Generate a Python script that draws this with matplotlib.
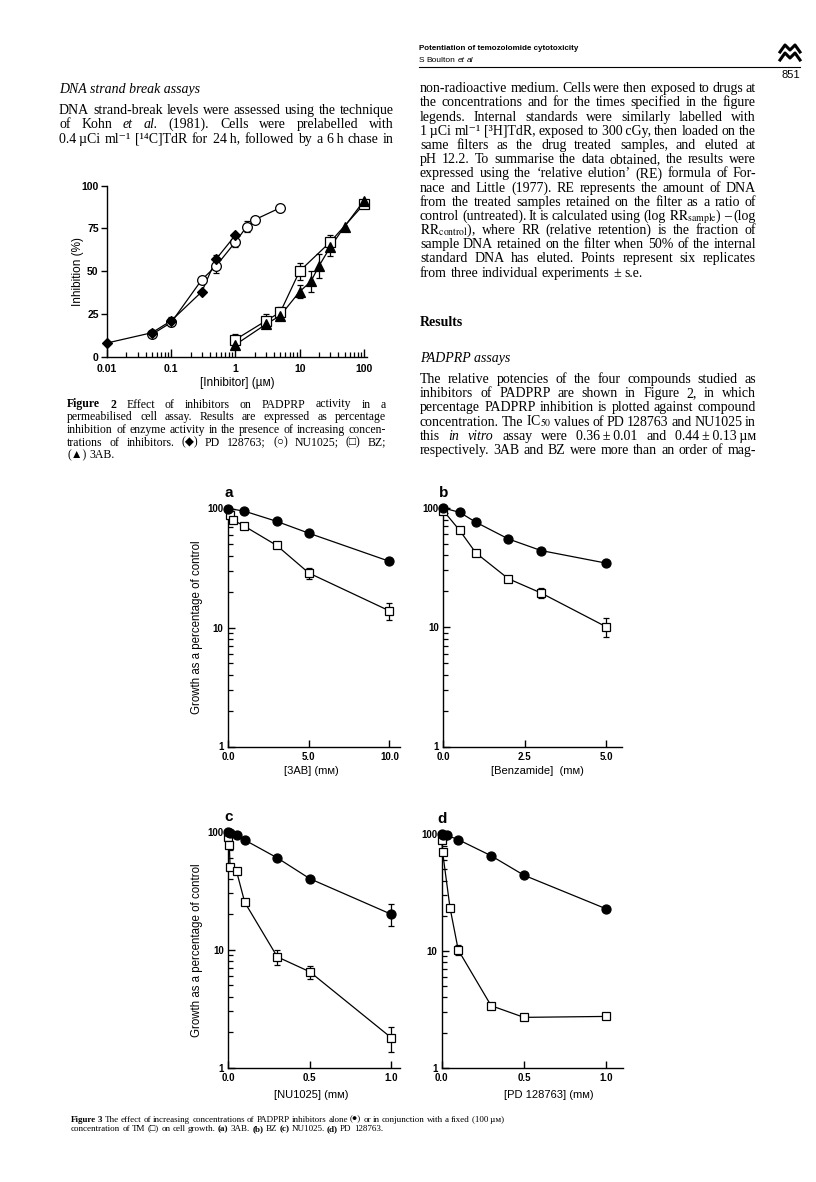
import matplotlib
matplotlib.use("Agg")
from matplotlib import pyplot as plt
from matplotlib.lines import Line2D
from matplotlib.ticker import FixedLocator, FixedFormatter, LogLocator, NullFormatter

W, H = 816, 1182
SERIF = ["Liberation Serif", "DejaVu Sans"]
SANS = ["Liberation Sans", "DejaVu Sans"]
plt.rcParams["font.family"] = SANS
plt.rcParams["mathtext.fontset"] = "stix"

# ---- Figure 2 data: inhibition (%) vs [inhibitor] (uM)
pd_x = [0.01, 0.05, 0.1, 0.3, 0.5, 1.0]
pd_y = [8, 14, 21, 38, 57, 71]
pd_err = [0, 0, 2, 0, 2.5, 0]
nu_x = [0.05, 0.1, 0.3, 0.5, 1.0, 1.5, 2.0, 5.0]
nu_y = [13, 20, 45, 53, 67, 76, 80, 87]
nu_err = [0, 2, 0, 4, 3, 3, 0, 0]
bz_x = [1, 3, 5, 10, 30, 100]
bz_y = [10, 21, 26, 50, 67, 89]
bz_err = [3.5, 4, 3, 5, 4, 0]
ab_x = [1, 3, 5, 10, 15, 20, 30, 50, 100]
ab_y = [7, 19, 24, 38, 44, 53, 64, 76, 91]
ab_err = [0, 2, 0, 4, 6, 7, 5, 0, 0]

# ---- Figure 3 data: growth (% of control), alone vs with TM
a_x = [0, 1, 3, 5, 10]
a_y = [100, 95, 78, 62, 36]
a_tm_x = [0.1, 0.3, 1, 3, 5, 10]
a_tm_y = [88, 80, 71, 49, 28.7, 13.8]
a_tm_err = [0, 0, 0, 0, 3, 2.3]

b_x = [0, 0.5, 1, 2, 3, 5]
b_y = [100, 92, 76, 55, 44, 34.5]
b_tm_x = [0, 0.5, 1, 2, 3, 5]
b_tm_y = [95, 65, 42, 25.5, 19.4, 10.1]
b_tm_err = [0, 0, 0, 0, 1.9, 1.75]

c_x = [0, 0.01, 0.05, 0.1, 0.3, 0.5, 1.0]
c_y = [100, 98, 93.5, 85, 60, 40, 20]
c_err = [0, 0, 0, 0, 0, 0, 4.2]
c_tm_x = [0, 0.005, 0.01, 0.05, 0.1, 0.3, 0.5, 1.0]
c_tm_y = [91, 77, 50, 46, 25.2, 8.7, 6.5, 1.8]
c_tm_err = [0, 0, 0, 0, 1.5, 1.25, 0.8, 0.43]

d_x = [0, 0.01, 0.03, 0.1, 0.3, 0.5, 1.0]
d_y = [100, 99, 98, 90, 65.5, 44.6, 23]
d_tm_x = [0, 0.005, 0.05, 0.1, 0.3, 0.5, 1.0]
d_tm_y = [89, 70, 23.4, 10.2, 3.4, 2.7, 2.75]
d_tm_err = [0, 0, 0, 1.0, 0, 0, 0]

fig = plt.figure(figsize=(W / 100, H / 100), dpi=100)
fig.patch.set_facecolor("white")


def fx(x):
    return x / W


def fy(y):
    return 1 - y / H


def add_ax(l, t, r, b):
    return fig.add_axes([fx(l), fy(b), (r - l) / W, (b - t) / H])


def words_of(line):
    out = []
    for w in line.split(" "):
        kw = {}
        if len(w) > 1 and w.startswith("#") and w.endswith("#"):
            w = w[1:-1]
            kw["fontweight"] = "bold"
        if len(w) > 1 and w.startswith("~") and w.endswith("~"):
            w = w[1:-1]
            kw["fontstyle"] = "italic"
        out.append((w, kw))
    return out


def para(lines, x0, x1, y0, dy, size, last_justify=False, family=SERIF):
    r = fig.canvas.get_renderer()
    for i, line in enumerate(lines):
        y = y0 + i * dy
        toks = words_of(line)
        texts = [fig.text(fx(x0), fy(y), w, fontsize=size, family=family,
                          va="baseline", ha="left", **kw) for w, kw in toks]
        widths = [t.get_window_extent(r).width for t in texts]
        justify = (i < len(lines) - 1) or last_justify
        if justify and len(texts) > 1:
            gap = (x1 - x0 - sum(widths)) / (len(texts) - 1)
        else:
            gap = 0.25 * size * 100 / 72
        x = x0
        for t, w in zip(texts, widths):
            t.set_x(fx(x))
            x += w + gap


def series(ax, x, y, err, marker, ms, face):
    ax.plot(x, y, color="black", lw=0.9, zorder=2, clip_on=False)
    ex = [a for a, e in zip(x, err) if e > 0]
    ey = [b for b, e in zip(y, err) if e > 0]
    ee = [e for e in err if e > 0]
    if ex:
        ax.errorbar(ex, ey, yerr=ee, fmt="none", ecolor="black", elinewidth=0.9,
                    capsize=2.5, capthick=0.9, zorder=2.5)
    ax.plot(x, y, ls="none", marker=marker, ms=ms, mfc=face, mec="black",
            mew=0.9, zorder=3, clip_on=False)


# ---------------- page header
fig.text(fx(419), fy(49.5), "Potentiation of temozolomide cytotoxicity",
         fontsize=5.8, fontweight="bold", family=SANS, va="baseline")
para(["S Boulton ~et~ ~al~"], 419, 480, 62, 10, 6, family=SANS)
fig.add_artist(Line2D([fx(419), fx(800)], [fy(66.7), fy(66.7)], transform=fig.transFigure,
                      color="black", lw=0.8))
for yo in (0, 8):
    fig.add_artist(Line2D([fx(v) for v in (780, 785, 790, 795, 800)],
                          [fy(v + yo) for v in (52, 45, 50, 45, 52)],
                          transform=fig.transFigure, color="black", lw=2.2,
                          solid_joinstyle="round"))
fig.text(fx(800), fy(78.5), "851", fontsize=8, family=SANS, ha="right", va="baseline")

# ---------------- left column text
fig.text(fx(59), fy(93.3), "DNA strand break assays", fontsize=10, family=SERIF,
         style="italic", va="baseline")
para(["DNA strand-break levels were assessed using the technique",
      "of Kohn ~et~ ~al.~ (1981). Cells were prelabelled with",
      "0.4\u2009µCi ml\u207b\u00b9 [\u00b9\u2074C]TdR for 24\u2009h, followed by a 6\u2009h chase in"],
     59, 394, 114, 14.3, 10, last_justify=True)

# ---------------- right column text
para(["non-radioactive medium. Cells were then exposed to drugs at",
      "the concentrations and for the times specified in the figure",
      "legends. Internal standards were similarly labelled with",
      "1\u2009µCi ml\u207b\u00b9 [\u00b3H]TdR, exposed to 300\u2009cGy, then loaded on the",
      "same filters as the drug treated samples, and eluted at",
      "pH 12.2. To summarise the data obtained, the results were",
      "expressed using the \u2018relative elution\u2019 (RE) formula of For-",
      "nace and Little (1977). RE represents the amount of DNA",
      "from the treated samples retained on the filter as a ratio of",
      "control (untreated). It is calculated using (log $\\mathrm{RR}_{\\mathrm{sample}}$) \u2013 (log",
      "$\\mathrm{RR}_{\\mathrm{control}}$), where RR (relative retention) is the fraction of",
      "sample DNA retained on the filter when 50% of the internal",
      "standard DNA has eluted. Points represent six replicates",
      "from three individual experiments ± s.e."],
     420, 756, 92.3, 14.18, 10)

fig.text(fx(420), fy(325.5), "Results", fontsize=10, family=SERIF, fontweight="bold",
         va="baseline")
fig.text(fx(420), fy(361.5), "PADPRP assays", fontsize=10, family=SERIF,
         style="italic", va="baseline")
para(["The relative potencies of the four compounds studied as",
      "inhibitors of PADPRP are shown in Figure 2, in which",
      "percentage PADPRP inhibition is plotted against compound",
      "concentration. The IC$_{50}$ values of PD 128763 and NU1025 in",
      "this ~in~ ~vitro~ assay were 0.36\u2009±\u20090.01 and 0.44\u2009±\u20090.13\u2009µᴍ",
      "respectively. 3AB and BZ were more than an order of mag-"],
     420, 756, 383, 14.2, 10, last_justify=True)

# ---------------- Figure 2
ax2 = add_ax(107, 185.5, 367, 356.7)
ax2.set_xscale("log")
ax2.set_xlim(0.01, 112)
ax2.set_ylim(0, 100)
series(ax2, nu_x, nu_y, nu_err, "o", 7, "white")
series(ax2, pd_x, pd_y, pd_err, "D", 5.5, "black")
series(ax2, bz_x, bz_y, bz_err, "s", 6.5, "white")
series(ax2, ab_x, ab_y, ab_err, "^", 6.5, "black")
for s in ("top", "right"):
    ax2.spines[s].set_visible(False)
for s in ("left", "bottom"):
    ax2.spines[s].set_linewidth(1.0)
ax2.set_yticks([0, 25, 50, 75, 100])
ax2.set_yticklabels(["0", "25", "50", "75", "100"])
ax2.xaxis.set_major_locator(FixedLocator([0.01, 0.1, 1, 10, 100]))
ax2.xaxis.set_major_formatter(FixedFormatter(["0.01", "0.1", "1", "10", "100"]))
ax2.xaxis.set_minor_locator(LogLocator(base=10, subs=range(2, 10), numticks=20))
ax2.xaxis.set_minor_formatter(NullFormatter())
ax2.tick_params(axis="y", direction="out", length=4, width=1, labelsize=7.5, pad=2)
ax2.tick_params(axis="x", which="major", direction="in", length=6, width=1, labelsize=7.5, pad=5)
ax2.tick_params(axis="x", which="minor", direction="in", length=3.5, width=0.9)
for lab in ax2.get_xticklabels() + ax2.get_yticklabels():
    lab.set_fontweight("bold")
fig.text(fx(77.7), fy(271.7), "Inhibition (%)", fontsize=8.5, rotation=90,
         ha="center", va="center")
fig.text(fx(237), fy(382.7), "[Inhibitor] (µᴍ)", fontsize=8.5, ha="center", va="center")

para(["#Figure# #2# Effect of inhibitors on PADPRP activity in a",
      "permeabilised cell assay. Results are expressed as percentage",
      "inhibition of enzyme activity in the presence of increasing concen-",
      "trations of inhibitors. (\u25c6) PD 128763; (\u25cb) NU1025; (\u25a1) BZ;",
      "(\u25b2) 3AB."],
     67, 386, 407.5, 12.7, 8.5)

# ---------------- Figure 3 panels
panels = [
    ("a", (227.7, 508.5, 400, 746.5), (-0.04, 10.66), [0, 5, 10], ["0.0", "5.0", "10.0"],
     a_x, a_y, [0] * len(a_x), a_tm_x, a_tm_y, a_tm_err, "[3AB] (mᴍ)", (311, 771)),
    ("b", (443, 508, 622, 746.5), (-0.01, 5.49), [0, 2.5, 5], ["0.0", "2.5", "5.0"],
     b_x, b_y, [0] * len(b_x), b_tm_x, b_tm_y, b_tm_err, "[Benzamide]  (mᴍ)", (537, 771.5)),
    ("c", (228, 831.7, 400, 1067.7), (-0.003, 1.055), [0, 0.5, 1.0], ["0.0", "0.5", "1.0"],
     c_x, c_y, c_err, c_tm_x, c_tm_y, c_tm_err, "[NU1025] (mᴍ)", (311, 1095)),
    ("d", (441.5, 834.3, 623, 1067.7), (-0.002, 1.103), [0, 0.5, 1.0], ["0.0", "0.5", "1.0"],
     d_x, d_y, [0] * len(d_x), d_tm_x, d_tm_y, d_tm_err, "[PD 128763] (mᴍ)", (549, 1095)),
]
for letter, box, xl, xt, xtl, x1, y1, e1, x2, y2, e2, xlab, xlpos in panels:
    ax = add_ax(*box)
    ax.set_yscale("log")
    ax.set_ylim(1, 100)
    ax.set_xlim(*xl)
    series(ax, x2, y2, e2, "s", 6, "white")
    series(ax, x1, y1, e1, "o", 6.5, "black")
    for s in ("top", "right"):
        ax.spines[s].set_visible(False)
    for s in ("left", "bottom"):
        ax.spines[s].set_linewidth(1.0)
    ax.yaxis.set_major_locator(FixedLocator([1, 10, 100]))
    ax.yaxis.set_major_formatter(FixedFormatter(["1", "10", "100"]))
    ax.yaxis.set_minor_locator(LogLocator(base=10, subs=range(2, 10), numticks=10))
    ax.yaxis.set_minor_formatter(NullFormatter())
    ax.set_xticks(xt)
    ax.set_xticklabels(xtl)
    ax.tick_params(axis="y", which="major", direction="in", length=5, width=1, labelsize=7, pad=3)
    ax.tick_params(axis="y", which="minor", direction="in", length=3.5, width=0.9)
    ax.tick_params(axis="x", direction="in", length=5, width=1, labelsize=7, pad=4)
    for lab in ax.get_xticklabels() + ax.get_yticklabels():
        lab.set_fontweight("bold")
    fig.text(fx(box[0] + 1), fy(box[1] - 15), letter, fontsize=11, fontweight="bold",
             ha="center", va="center")
    fig.text(fx(xlpos[0]), fy(xlpos[1]), xlab, fontsize=8, ha="center", va="center")
    if letter in ("a", "c"):
        fig.text(fx(196.7), fy((box[1] + box[3]) / 2), "Growth as a percentage of control",
                 fontsize=8.3, rotation=90, ha="center", va="center")

para(["#Figure# #3# The effect of increasing concentrations of PADPRP inhibitors alone (\u25cf) or in conjunction with a fixed (100\u2009µᴍ)",
      "concentration of TM (\u25a1) on cell growth. #(a)# 3AB. #(b)# BZ #(c)# NU1025. #(d)# PD 128763."],
     71, 504, 1121.5, 9.3, 6.5)

fig.savefig("out.png", dpi=100)
